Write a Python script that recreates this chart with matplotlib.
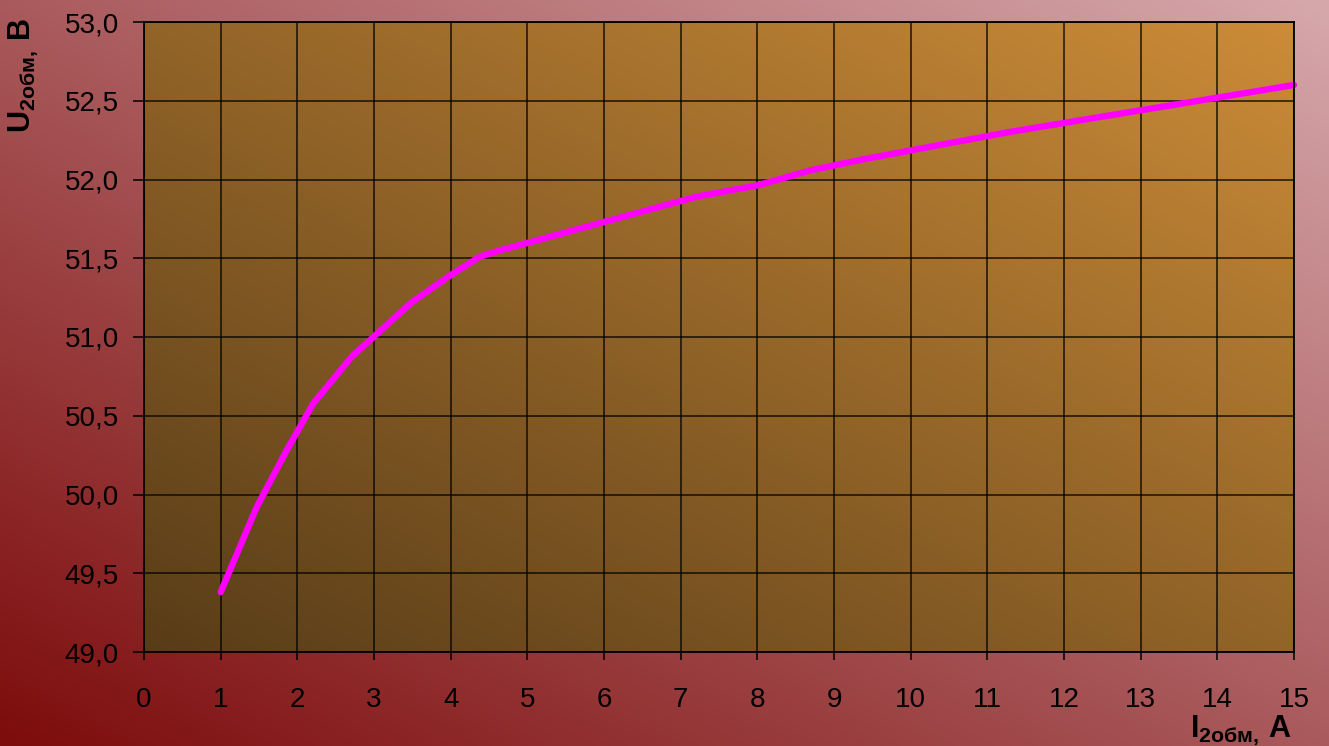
import numpy as np
import matplotlib
matplotlib.use("Agg")
import matplotlib.pyplot as plt

plt.rcParams['font.family'] = ['Liberation Sans', 'DejaVu Sans']
plt.rcParams['mathtext.fontset'] = 'custom'
plt.rcParams['mathtext.rm'] = 'Liberation Sans'
plt.rcParams['mathtext.bf'] = 'Liberation Sans:bold'

# Secondary winding current (A) and voltage (V)
current = [1.0, 1.47, 1.86, 2.21, 2.71, 3.49, 3.99, 4.38, 4.64, 5.17, 5.47,
           7.20, 8.02, 8.71, 9.40, 11.27, 12.51, 15.0]
voltage = [49.38, 49.92, 50.28, 50.58, 50.875, 51.22, 51.39, 51.51, 51.55,
           51.62, 51.66, 51.89, 51.965, 52.06, 52.13, 52.30, 52.40, 52.60]

x_ticks = list(range(0, 16))
y_ticks = [49.0, 49.5, 50.0, 50.5, 51.0, 51.5, 52.0, 52.5, 53.0]
y_tick_labels = [f"{v:.1f}".replace('.', ',') for v in y_ticks]

W, H = 1329, 746
fig = plt.figure(figsize=(W / 100, H / 100), dpi=100)


def diagonal_gradient(c_low, c_high, n=256):
    # blend from bottom-left corner to top-right corner
    u = np.linspace(0, 1, n)
    xx, yy = np.meshgrid(u, u)
    t = (xx + yy) / 2.0
    c0 = np.array(c_low) / 255.0
    c1 = np.array(c_high) / 255.0
    return c0 + (c1 - c0) * t[..., None]


# figure background
bg = fig.add_axes([0, 0, 1, 1], zorder=-10)
bg.imshow(diagonal_gradient((125, 12, 12), (214, 168, 172)), origin='lower',
          extent=[0, 1, 0, 1], aspect='auto', interpolation='bicubic')
bg.set_axis_off()

left, right, top, bottom = 144, 1294, 22, 652
ax = fig.add_axes([left / W, 1 - bottom / H, (right - left) / W, (bottom - top) / H])
ax.patch.set_alpha(0)
ax.imshow(diagonal_gradient((88, 60, 24), (204, 140, 56)), origin='lower',
          extent=[0, 1, 0, 1], transform=ax.transAxes, aspect='auto',
          interpolation='bicubic', zorder=0)

ax.plot(current, voltage, color='#ff00ff', lw=4.6, solid_capstyle='round',
        solid_joinstyle='round', zorder=5, clip_on=False)

ax.set_xlim(0, 15)
ax.set_ylim(49.0, 53.0)
ax.set_xticks(x_ticks)
ax.set_xticklabels([str(v) for v in x_ticks])
ax.set_yticks(y_ticks)
ax.set_yticklabels(y_tick_labels)
ax.grid(True, color='black', lw=1.1, alpha=0.85, zorder=2)
ax.set_axisbelow(False)
for s in ax.spines.values():
    s.set_color('black')
    s.set_linewidth(1.3)
    s.set_zorder(6)

ax.tick_params(axis='both', direction='out', color='black', width=1.1,
               labelsize=20, labelcolor='black')
ax.tick_params(axis='y', length=8, pad=10)
ax.tick_params(axis='x', length=6, pad=19)

fig.text(23 / W, 1 - 76 / H, r'$\mathbf{U_{2обм,}\,B}$', rotation=90,
         ha='center', va='center', fontsize=22, color='black')
fig.text(1241 / W, 1 - 730 / H, r'$\mathbf{I_{2обм,}\,A}$',
         ha='center', va='center', fontsize=22, color='black')

fig.savefig('out.png', dpi=100)
